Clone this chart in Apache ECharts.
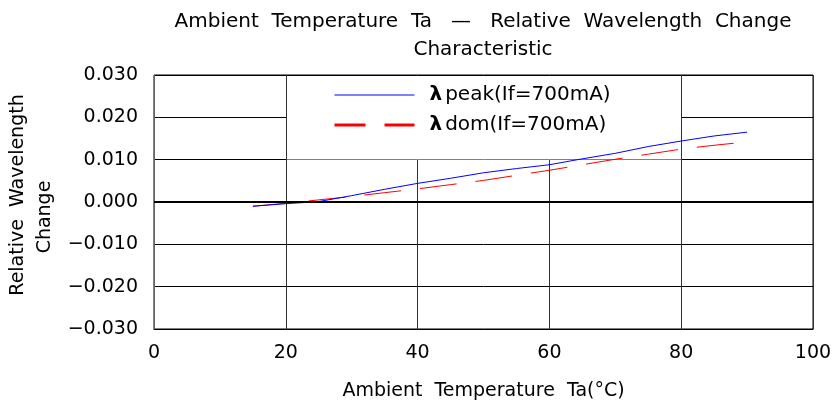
<!DOCTYPE html>
<html>
<head>
<meta charset="utf-8">
<script src="https://cdn.jsdelivr.net/npm/echarts@6/dist/echarts.min.js"></script>
<style>
  html, body { margin: 0; padding: 0; background: #fff; }
  #chart { width: 838px; height: 408px; }
</style>
</head>
<body>
<div id="chart"></div>
<script>
// Ambient temperature (°C) sample points
const temps = [15, 20, 25, 30, 35, 40, 45, 50, 55, 60, 65, 70, 75, 80, 85, 90];
// Relative wavelength change, peak wavelength
const peakShift = [-0.0010, -0.0004, 0.0001, 0.0015, 0.0030, 0.0044, 0.0056, 0.0069, 0.0079, 0.0088, 0.0102, 0.0115, 0.0131, 0.0144, 0.0156, 0.0165];
// Relative wavelength change, dominant wavelength
const domShift = [-0.0010, -0.0003, 0.0005, 0.0013, 0.0022, 0.0031, 0.0041, 0.0051, 0.0063, 0.0075, 0.0088, 0.0101, 0.0113, 0.0125, 0.0134, 0.0142];
const seriesNames = ['λpeak(If=700mA)', 'λdom(If=700mA)'];
const yTicks = [-0.03, -0.02, -0.01, 0, 0.01, 0.02, 0.03];
const xTicks = [0, 20, 40, 60, 80, 100];

const FONT = '"DejaVu Sans", sans-serif';
const chart = echarts.init(document.getElementById('chart'), null, { renderer: 'canvas' });

const fmtY = v => (v < 0 ? '\u2212' : '') + Math.abs(v).toFixed(3);

chart.setOption({
  animation: false,
  backgroundColor: '#fff',
  title: {
    text: 'Ambient  Temperature  Ta   \u2014   Relative  Wavelength  Change\nCharacteristic',
    left: 478,
    top: 3,
    textAlign: 'center',
    textStyle: { fontFamily: FONT, fontSize: 20, fontWeight: 'normal', color: '#000', lineHeight: 28 }
  },
  grid: { left: 154, right: 25, top: 75, bottom: 79, show: true, borderColor: '#000', borderWidth: 1 },
  legend: {
    orient: 'vertical',
    left: 328,
    top: 80,
    itemWidth: 80,
    itemHeight: 14,
    itemGap: 10,
    selectedMode: false,
    itemStyle: { opacity: 0 },
    data: [
      { name: seriesNames[0], lineStyle: { width: 1, type: 'solid' } },
      { name: seriesNames[1], lineStyle: { width: 3, type: [31, 19] } }
    ],
    formatter: n => '{l|' + n.charAt(0) + '}' + n.slice(1),
    textStyle: {
      fontFamily: FONT, fontSize: 20, color: '#000', padding: [0, 0, 0, 10],
      rich: { l: { fontFamily: FONT, fontSize: 20, fontWeight: 'bold', color: '#000', padding: [0, 3, 0, 0] } }
    }
  },
  graphic: [
    { type: 'rect', z: 1, shape: { x: 287, y: 76, width: 394, height: 83.5 }, style: { fill: '#fff' }, silent: true },
    { type: 'text', rotation: Math.PI / 2, x: 18, y: 195,
      style: { text: 'Relative  Wavelength', font: '19px ' + FONT, fill: '#000', textAlign: 'center', textVerticalAlign: 'middle' } },
    { type: 'text', rotation: Math.PI / 2, x: 45, y: 217,
      style: { text: 'Change', font: '19px ' + FONT, fill: '#000', textAlign: 'center', textVerticalAlign: 'middle' } }
  ],
  xAxis: {
    type: 'value',
    min: xTicks[0], max: xTicks[xTicks.length - 1], interval: 20,
    name: 'Ambient  Temperature  Ta(\u00B0C)',
    nameLocation: 'middle', nameGap: 53,
    nameTextStyle: { fontFamily: FONT, fontSize: 19, color: '#000' },
    axisLine: { onZero: false, lineStyle: { color: '#000' } },
    axisTick: { show: false },
    axisLabel: { fontFamily: FONT, fontSize: 19, color: '#000', margin: 15 },
    splitLine: { show: true, lineStyle: { color: '#333', width: 1 } }
  },
  yAxis: {
    type: 'value',
    min: yTicks[0], max: yTicks[yTicks.length - 1], interval: 0.01,
    axisLine: { show: true, lineStyle: { color: '#666' } },
    axisTick: { show: false },
    axisLabel: { fontFamily: FONT, fontSize: 19, color: '#000', margin: 16, formatter: fmtY },
    splitLine: { show: true, lineStyle: { color: '#000', width: 1 } }
  },
  series: [
    {
      name: seriesNames[0],
      type: 'line',
      data: temps.map((t, i) => [t, peakShift[i]]),
      showSymbol: false, symbol: 'none',
      lineStyle: { color: '#0000ff', width: 1 },
      itemStyle: { color: '#0000ff' },
      z: 3,
      markLine: {
        silent: true, symbol: 'none', label: { show: false },
        lineStyle: { color: '#000', width: 2, type: 'solid' },
        data: [{ yAxis: 0 }]
      }
    },
    {
      name: seriesNames[1],
      type: 'line',
      data: temps.map((t, i) => [t, domShift[i]]),
      showSymbol: false, symbol: 'none',
      lineStyle: { color: '#ff0000', width: 1, type: [37, 19] },
      itemStyle: { color: '#ff0000' },
      z: 2
    }
  ]
});
</script>
</body>
</html>
